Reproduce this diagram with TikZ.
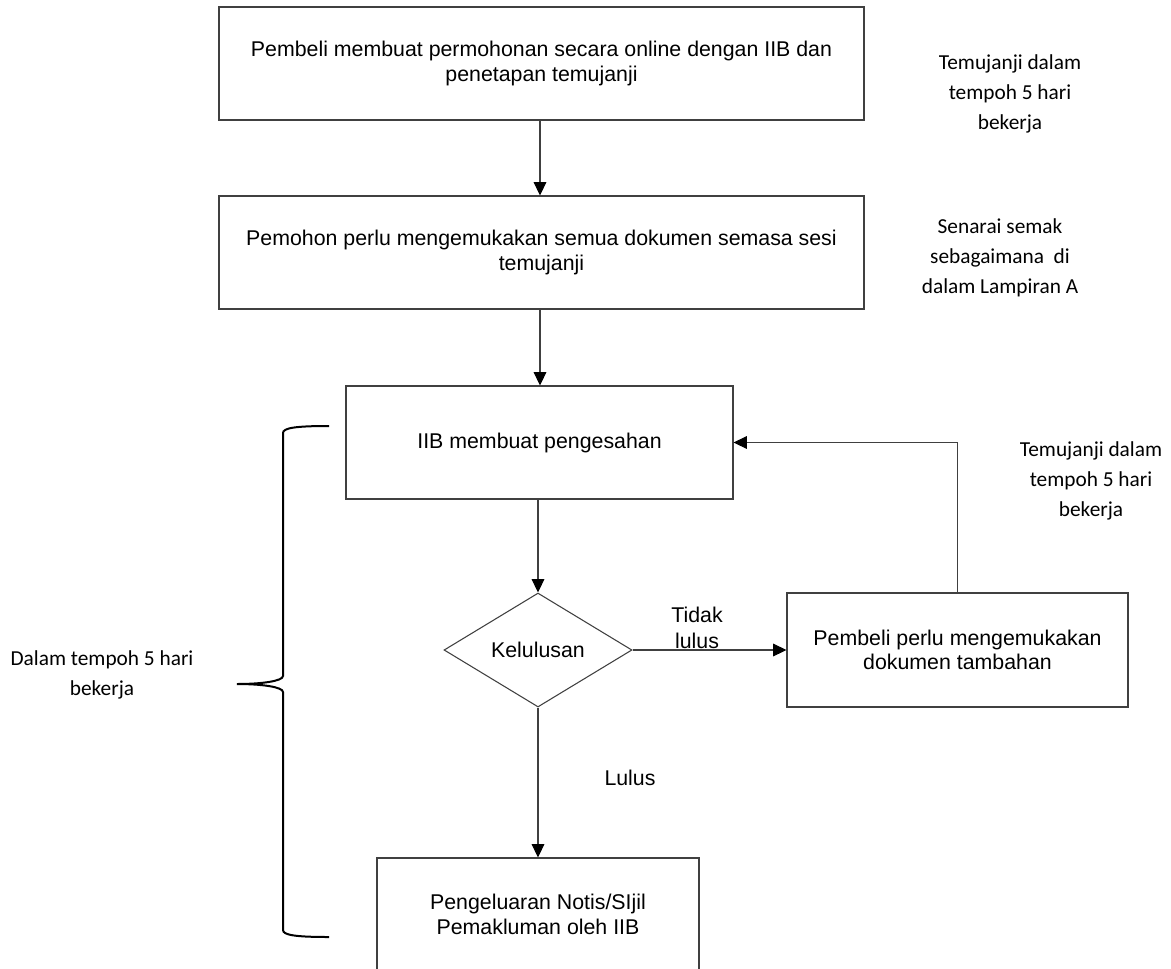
\documentclass[tikz,border=0pt]{standalone}
\usepackage{fontspec}
\setmainfont{Liberation Sans}
\newfontfamily\calfont{Carlito}
\usetikzlibrary{arrows.meta,shapes.geometric}
\begin{document}
\begin{tikzpicture}[x=0.75pt,y=-0.75pt,
  box/.style={draw=black!75,line width=0.8pt,rectangle,inner sep=0pt,align=center,
    font=\fontsize{16}{18.5}\selectfont},
  decide/.style={draw=black!75,line width=0.8pt,diamond,aspect=1.65,inner sep=0pt,
    minimum width=141pt,minimum height=85.5pt,font=\fontsize{16}{18.5}\selectfont},
  note/.style={align=center,inner sep=0pt,font=\calfont\fontsize{16}{22.5}\selectfont},
  lbl/.style={align=center,inner sep=0pt,font=\fontsize{16}{19.5}\selectfont},
  conn/.style={draw=black!75,line width=0.8pt,-{Triangle[length=10pt,width=9.5pt,color=black]}},
  brace/.style={draw=black,line width=1.5pt}]
\useasboundingbox (0,0) rectangle (1171,968);
\node[box,minimum width=483.75pt,minimum height=84.75pt] (b1) at (541.5,63.5)
  {Pembeli membuat permohonan secara online dengan IIB dan\\penetapan temujanji};
\node[box,minimum width=483.75pt,minimum height=84.75pt] (b2) at (541.5,252.5)
  {Pemohon perlu mengemukakan semua dokumen semasa sesi\\temujanji};
\node[box,minimum width=290.25pt,minimum height=84.75pt] (b3) at (539.5,442.5)
  {IIB membuat pengesahan};
\node[decide] (d) at (538,650) {Kelulusan};
\node[box,minimum width=255.75pt,minimum height=85.5pt] (b4) at (957.5,650)
  {Pembeli perlu mengemukakan\\dokumen tambahan};
\node[box,minimum width=241.5pt,minimum height=84.75pt] (b5) at (538,914.5)
  {Pengeluaran Notis/SIjil\\Pemakluman oleh IIB};

\node[note] (n1) at (1010,94) {Temujanji dalam\\tempoh 5 hari\\bekerja};
\node[note] (n2) at (1000,258) {Senarai semak\\sebagaimana\ \ di\\dalam Lampiran A};
\node[note] (n3) at (1091,481) {Temujanji dalam\\tempoh 5 hari\\bekerja};
\node[note] (n4) at (102,675) {Dalam tempoh 5 hari\\bekerja};

\node[lbl] (t1) at (697,628) {Tidak\\lulus};
\node[lbl] (t2) at (630,778) {Lulus};

\draw[conn] (b1.south -| 540,0) -- (b2.north -| 540,0);
\draw[conn] (b2.south -| 540,0) -- (b3.north -| 540,0);
\draw[conn] (b3.south -| d.north) -- (d.north);
\draw[conn] (d.east) -- (b4.west);
\draw[conn] (d.south) -- (b5.north -| d.south);
\draw[conn] (b4.north) |- (b3.east);

\coordinate (bt) at (329,426);
\coordinate (bb) at (329,937);
\coordinate (bk) at (237,684);
\draw[brace] (bt) .. controls (295,426) and (283,428) .. (283,433)
  -- (283,676) .. controls (283,681) and (262,684) .. (bk)
  .. controls (262,684) and (283,687) .. (283,692)
  -- (283,930) .. controls (283,935) and (295,937) .. (bb);
\end{tikzpicture}
\end{document}
